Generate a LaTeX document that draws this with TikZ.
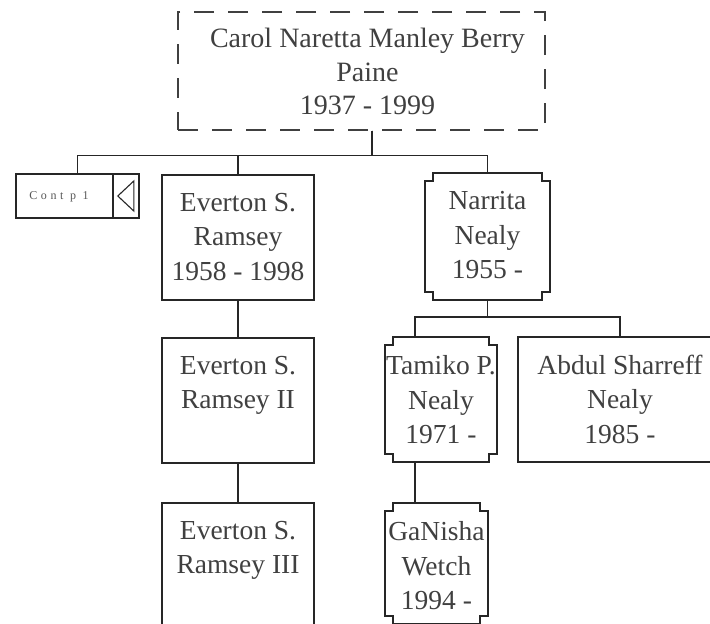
\documentclass[tikz,border=0pt]{standalone}
\usepackage{fontspec}
\setmainfont{Liberation Serif}
\usetikzlibrary{calc}
\tikzset{
  ln/.style={draw=black!85, line width=1.6pt},
  box/.style={rectangle, ln, fill=white, inner sep=0pt},
  hidbox/.style={rectangle, draw=none, inner sep=0pt},
  dashbox/.style={rectangle, draw=black!75, line width=1.3pt, dash pattern=on 20pt off 14pt, inner sep=0pt},
  txt/.style={align=center, inner sep=0pt, text=black!75, font=\fontsize{27.5}{34.5}\selectfont},
  toptxt/.style={align=center, inner sep=0pt, text=black!75, font=\fontsize{28}{33.5}\selectfont},
  tiny/.style={inner sep=0pt, text=black!65, font=\fontsize{12}{13}\selectfont\addfontfeature{LetterSpace=30}},
}
\newcommand\notchedoutline[1]{%
  \draw[ln] ($(#1.north west)+(8,0)$) -- ($(#1.north east)+(-8,0)$) -- ++(0,8) -- ++(8,0)
    -- ($(#1.south east)+(0,-8)$) -- ++(-8,0) -- ++(0,8)
    -- ($(#1.south west)+(8,0)$) -- ++(0,-8) -- ++(-8,0)
    -- ($(#1.north west)+(0,8)$) -- ++(8,0) -- cycle;}
\begin{document}
\begin{tikzpicture}[x=1pt, y=-1pt]
\useasboundingbox (0,0) rectangle (710,624);
\fill[white] (0,0) rectangle (710,624);
\clip (0,0) rectangle (710,624);

% boxes
\node[dashbox, minimum width=367pt, minimum height=118pt] (top) at (361.5,71) {};
\node[box, minimum width=123pt, minimum height=44pt] (cont) at (77.5,196) {};
\node[box, minimum width=152pt, minimum height=125pt] (ev1) at (238,237.5) {};
\node[box, minimum width=152pt, minimum height=125pt] (ev2) at (238,400.5) {};
\node[box, minimum width=152pt, minimum height=125pt] (ev3) at (238,565.5) {};
\node[hidbox, minimum width=125pt, minimum height=127pt] (nar) at (487.5,236.5) {};
\node[hidbox, minimum width=112pt, minimum height=125pt] (tam) at (441,399.5) {};
\node[box, minimum width=204pt, minimum height=125pt] (abd) at (620,399.5) {};
\node[hidbox, minimum width=103pt, minimum height=121pt] (gan) at (436.5,563.5) {};
\notchedoutline{nar}
\notchedoutline{tam}
\notchedoutline{gan}

% connectors
\draw[ln] ($(top.south)+(10.5,0)$) -- ++(0,25) -| (cont.north);
\draw[ln] ($(top.south)+(10.5,0)$) -- ++(0,25) -| (ev1.north);
\draw[ln] ($(top.south)+(10.5,0)$) -- ++(0,25) -| (nar.north);
\draw[ln] (ev1.south) -- (ev2.north);
\draw[ln] (ev2.south) -- (ev3.north);
\draw[ln] (nar.south) -- ++(0,17) -| ($(tam.north west)+(30,0)$);
\draw[ln] (nar.south) -- ++(0,17) -| (abd.north);
\draw[ln] ($(tam.south west)+(30,0)$) -- ($(gan.north west)+(30,0)$);

% continuation box
\coordinate (div1) at ($(cont.north east)+(-27,0)$);
\coordinate (div2) at ($(cont.south east)+(-27,0)$);
\draw[ln] (div1) -- (div2);
\node[tiny] (contt) at (59,197) {Cont p 1};
\draw[draw=black!85, line width=1.1pt, line join=miter]
  ($(cont.east)+(-6,-15)$) -- ($(cont.east)+(-22,0)$) -- ($(cont.east)+(-6,15)$) -- cycle;

% texts
\node[toptxt, anchor=north] (topt) at ($(top.north)+(6,17)$) {Carol Naretta Manley Berry\\Paine\\1937 - 1999};
\node[txt, anchor=north] (ev1t) at ($(ev1.north)+(0,18.5)$) {Everton S.\\Ramsey\\1958 - 1998};
\node[txt, anchor=north] (ev2t) at ($(ev2.north)+(0,18.5)$) {Everton S.\\Ramsey II};
\node[txt, anchor=north] (ev3t) at ($(ev3.north)+(0,18.5)$) {Everton S.\\Ramsey III};
\node[txt, anchor=north] (nart) at ($(nar.north)+(0,18.5)$) {Narrita\\Nealy\\1955 -};
\node[txt, anchor=north] (tamt) at ($(tam.north)+(0,18.5)$) {Tamiko P.\\Nealy\\1971 -};
\node[txt, anchor=north] (abdt) at ($(abd.north)+(0,18.5)$) {Abdul Sharreff\\Nealy\\1985 -};
\node[txt, anchor=north] (gant) at ($(gan.north)+(0,18.5)$) {GaNisha\\Wetch\\1994 -};
\end{tikzpicture}
\end{document}
